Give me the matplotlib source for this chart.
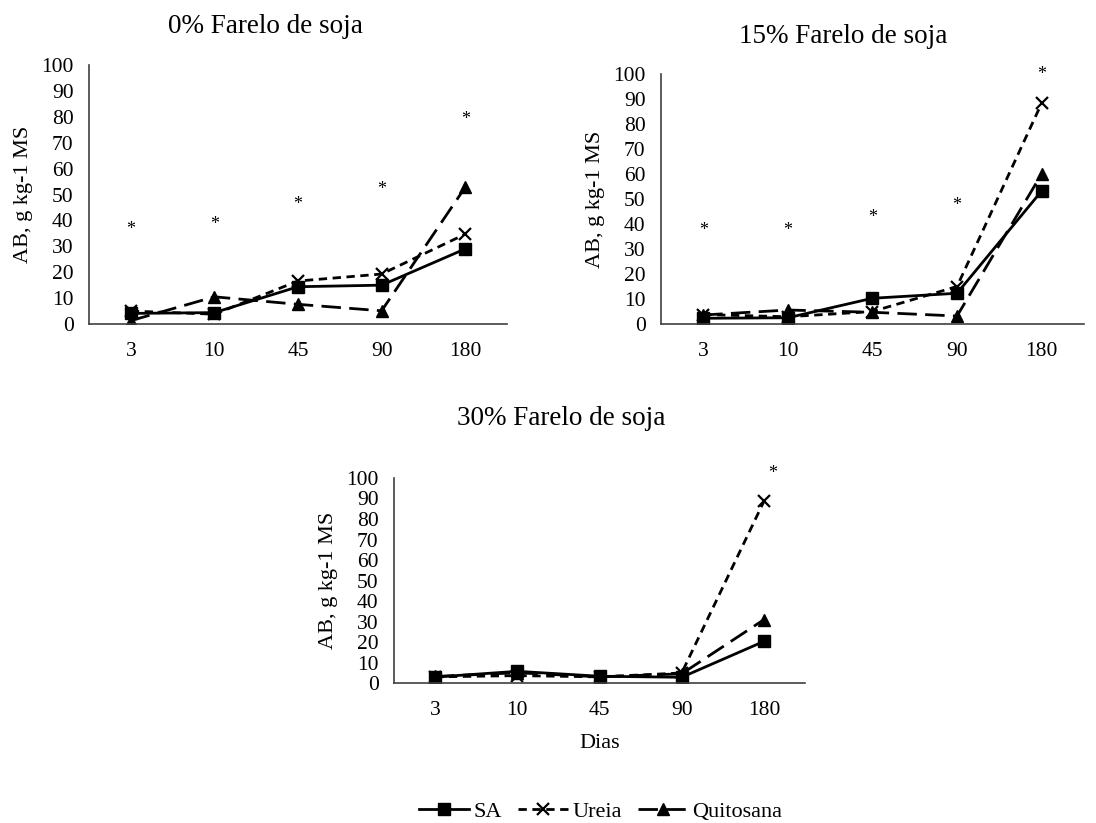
import matplotlib
matplotlib.use('Agg')
import matplotlib.pyplot as plt

plt.rcParams['font.family'] = ['Liberation Serif', 'DejaVu Serif']
plt.rcParams['font.size'] = 15.5

dias = ['3', '10', '45', '90', '180']

# 0% farelo de soja
sa_0 = [4.1, 4.4, 14.4, 15.0, 29.0]
ureia_0 = [5.0, 3.8, 16.6, 19.3, 34.7]
quit_0 = [1.3, 10.5, 7.6, 5.1, 52.8]
ast_0 = [36.3, 38.6, 46.2, 52.0, 79.0]

# 15% farelo de soja
sa_15 = [2.3, 2.5, 10.3, 12.3, 53.2]
ureia_15 = [3.8, 2.9, 5.0, 15.0, 88.3]
quit_15 = [3.6, 5.6, 4.7, 3.2, 60.0]
ast_15 = [37.3, 37.6, 42.7, 47.6, 99.6]

# 30% farelo de soja
sa_30 = [2.9, 5.7, 3.3, 2.8, 20.3]
ureia_30 = [3.0, 3.6, 3.0, 4.9, 88.6]
quit_30 = [3.2, 5.0, 3.0, 4.5, 30.9]
ast_30 = [None, None, None, None, 102.4]

fig = plt.figure(figsize=(10.96, 8.23), dpi=100)

# posição do eixo, dados, título (x, y da linha de base), deslocamento do asterisco
paineis = [
    ([0.0812, 0.6063, 0.3814, 0.3147], sa_0, ureia_0, quit_0, ast_0,
     '0% Farelo de soja', (0.2418, 0.960), 0.0, False),
    ([0.603, 0.6063, 0.386, 0.3038], sa_15, ureia_15, quit_15, ast_15,
     '15% Farelo de soja', (0.769, 0.9478), 0.0, False),
    ([0.3595, 0.1701, 0.375, 0.2491], sa_30, ureia_30, quit_30, ast_30,
     '30% Farelo de soja', (0.512, 0.4836), 0.1, True),
]

handles = None
for pos, sa, ur, qu, ast, titulo, tpos, dx, xlab in paineis:
    ax = fig.add_axes(pos)
    x = list(range(len(dias)))
    h1, = ax.plot(x, sa, color='black', lw=2, ls='-', marker='s', ms=9, label='SA')
    h2, = ax.plot(x, ur, color='black', lw=2, ls=(0, (3, 2)), marker='x', ms=9, mew=1.6, label='Ureia')
    h3, = ax.plot(x, qu, color='black', lw=2, ls=(0, (7, 3)), marker='^', ms=9, label='Quitosana')
    if handles is None:
        handles = [h1, h2, h3]
    for i, a in enumerate(ast):
        if a is not None:
            ax.text(i + dx, a, '*', ha='center', va='center', fontsize=13)
    ax.set_xlim(-0.5, 4.5)
    ax.set_ylim(0, 100)
    ax.set_xticks(x)
    ax.set_xticklabels(dias)
    ax.set_yticks(range(0, 101, 10))
    ax.tick_params(axis='x', length=0, labelsize=15.5, pad=13)
    ax.tick_params(axis='y', length=0, labelsize=15.5, pad=11)
    for s in ['top', 'right']:
        ax.spines[s].set_visible(False)
    for s in ['left', 'bottom']:
        ax.spines[s].set_color('#404040')
        ax.spines[s].set_linewidth(1.2)
    ax.set_ylabel('AB, g kg-1 MS', fontsize=16, labelpad=6)
    fig.text(tpos[0], tpos[1], titulo, ha='center', va='baseline', fontsize=19.5)
    if xlab:
        ax.set_xlabel('Dias', fontsize=16, labelpad=10)

fig.legend(handles=handles, loc='center', bbox_to_anchor=(0.548, 0.014), ncol=3,
           frameon=False, fontsize=16, handlelength=2.25, handletextpad=0.22,
           columnspacing=0.7, borderpad=0)

fig.savefig('out.png', dpi=100)
